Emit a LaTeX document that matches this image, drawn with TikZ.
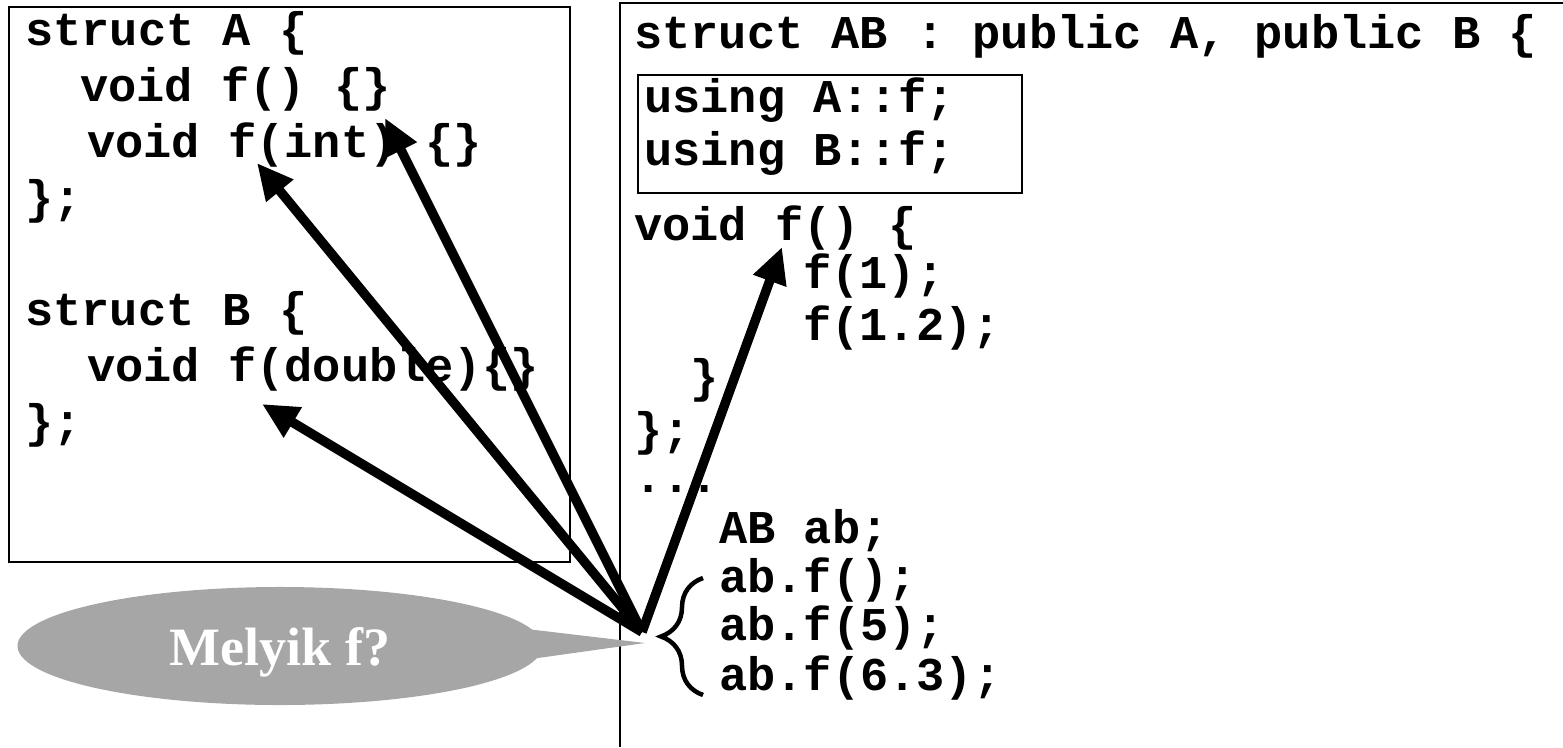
\documentclass[tikz,border=0pt]{standalone}
\usepackage{fontspec}
\setmainfont{Liberation Serif}
\setmonofont{Liberation Mono}
\usetikzlibrary{arrows.meta,shapes.callouts,decorations.pathreplacing}
\definecolor{bubble}{RGB}{166,166,166}
\tikzset{
  code/.style={anchor=base west,inner sep=0pt,font=\ttfamily\bfseries\fontsize{47}{56}\selectfont},
  frame/.style={draw,line width=2pt},
  ptr/.style={line width=9.5pt,-{Triangle[length=36pt,width=33pt]}}
}
\begin{document}
\begin{tikzpicture}[x=1pt,y=-1pt]
  \useasboundingbox (0,0) rectangle (1563,747);
  % base classes
  \draw[frame] (9,7) rectangle (570,562);
  \draw
    (25,45) node[code] (sa){struct A \{}
    (80,101) node[code] (fa){void f() \{\}}
    (87,157) node[code] (fi){void f(int) \{\}}
    (25,213) node[code] (ea){\};}
    (25,325) node[code] (sb){struct B \{}
    (87,381) node[code] (fd){void f(double)\{\}}
    (25,437) node[code] (eb){\};};
  % derived class
  \draw[frame] (1563,3) -- (620,3) -- (620,747);
  \draw[frame] (638,75) rectangle (1022,193);
  \draw
    (634,48) node[code] (sab){struct AB : public A, public B \{}
    (644,112) node[code] (ua){using A::f;}
    (644,165) node[code] (ub){using B::f;}
    (634,240) node[code] (fab){void f() \{}
    (803,288) node[code] (c1){f(1);}
    (803,340) node[code] (c2){f(1.2);}
    (690,392) node[code] (cl){\}}
    (634,445) node[code] (eab){\};}
    (634,492) node[code] (dots){...}
    (719,543) node[code] (ab){AB ab;}
    (719,592) node[code] (m1){ab.f();}
    (719,640) node[code] (m2){ab.f(5);}
    (719,690) node[code] (m3){ab.f(6.3);};
  \draw[line width=4.5pt,decorate,decoration={brace,amplitude=42pt}] (703,695) -- (703,578);
  % question
  \node[ellipse callout,fill=bubble,minimum width=525pt,minimum height=118pt,inner sep=0pt,
    callout absolute pointer={(645,643)},callout pointer arc=28,text=white,
    text height=45pt,text depth=6pt,font=\bfseries\fontsize{54}{60}\selectfont]
    (q) at (280,646) {Melyik f?};
  \coordinate (src) at (642,632);
  \coordinate (tfa) at (385,118);
  \coordinate (tfi) at (257,163);
  \coordinate (tfd) at (262,404);
  \coordinate (tfab) at (782,247);
  \begin{scope}[ptr]
    \draw (src) to (tfa);
    \draw (src) to (tfi);
    \draw (src) to (tfd);
    \draw (src) to (tfab);
  \end{scope}
\end{tikzpicture}
\end{document}
